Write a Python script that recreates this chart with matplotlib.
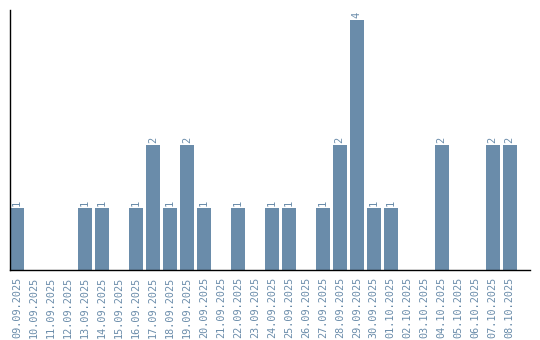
import matplotlib
matplotlib.use("Agg")
import matplotlib.pyplot as plt

# Data
dates = ["09.09.2025", "10.09.2025", "11.09.2025", "12.09.2025", "13.09.2025",
         "14.09.2025", "15.09.2025", "16.09.2025", "17.09.2025", "18.09.2025",
         "19.09.2025", "20.09.2025", "21.09.2025", "22.09.2025", "23.09.2025",
         "24.09.2025", "25.09.2025", "26.09.2025", "27.09.2025", "28.09.2025",
         "29.09.2025", "30.09.2025", "01.10.2025", "02.10.2025", "03.10.2025",
         "04.10.2025", "05.10.2025", "06.10.2025", "07.10.2025", "08.10.2025"]
counts = [1, 0, 0, 0, 1, 1, 0, 1, 2, 1,
          2, 1, 0, 1, 0, 1, 1, 0, 1, 2,
          4, 1, 1, 0, 0, 2, 0, 0, 2, 2]

bar_color = "#6a8caa"
mono = "DejaVu Sans Mono"

fig = plt.figure(figsize=(5.4, 3.4), dpi=100)
ax = fig.add_axes([10 / 540, 70 / 340, 520 / 540, 260 / 340])

x = list(range(len(dates)))
ax.bar(x, counts, width=0.82, color=bar_color)

# value labels above non-zero bars
for xi, v in zip(x, counts):
    if v > 0:
        ax.text(xi, v + 0.03, str(v), rotation=90, ha="center", va="bottom",
                fontsize=7.5, color=bar_color, family=mono)

ax.set_xlim(-0.41, 30.2)
ax.set_ylim(0, 4.16)
ax.set_xticks(x)
ax.set_xticklabels(dates, rotation=90, fontsize=7.3, color=bar_color,
                   family=mono)
ax.tick_params(axis="x", length=0, pad=5)
ax.set_yticks([])

for side in ["top", "right"]:
    ax.spines[side].set_visible(False)
ax.spines["left"].set_linewidth(1.0)
ax.spines["bottom"].set_linewidth(1.0)

fig.savefig("out.png", dpi=100)
